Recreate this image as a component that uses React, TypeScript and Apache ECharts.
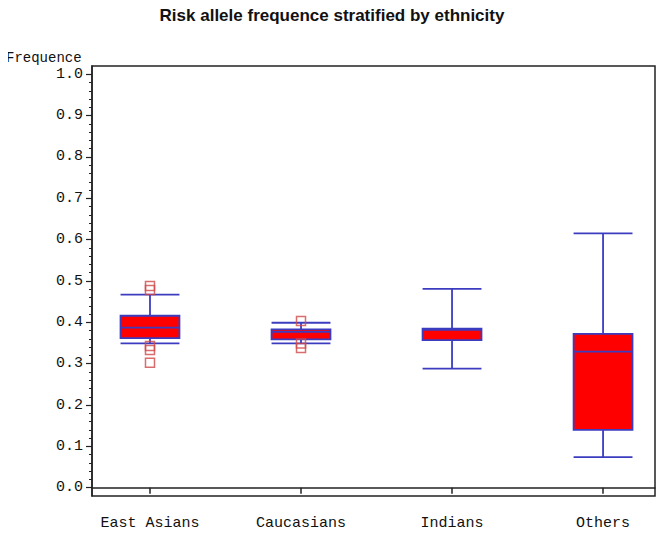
import React, { useEffect, useRef } from "react";
import * as echarts from "echarts";

const categories = ["East Asians", "Caucasians", "Indians", "Others"];
const whiskerLow = [0.349, 0.349, 0.288, 0.074];
const q1 = [0.362, 0.359, 0.357, 0.14];
const median = [0.387, 0.377, 0.382, 0.329];
const q3 = [0.416, 0.383, 0.385, 0.372];
const whiskerHigh = [0.467, 0.399, 0.481, 0.615];
const outlierGroup = [0, 0, 0, 0, 0, 1, 1, 1];
const outlierValue = [0.488, 0.478, 0.343, 0.333, 0.302, 0.403, 0.349, 0.338];
const majorTicks = [0, 0.1, 0.2, 0.3, 0.4, 0.5, 0.6, 0.7, 0.8, 0.9, 1.0];
const minorTicks: number[] = [];
for (let i = 0; i <= 50; i++) {
  if (i % 5 !== 0) minorTicks.push(i / 50);
}

const BLUE = "#3c3cc0";
const MONO = "'Liberation Mono', 'DejaVu Sans Mono', monospace";

export default function App() {
  const ref = useRef<HTMLDivElement>(null);
  useEffect(() => {
    if (!ref.current) return;
    const chart = echarts.init(ref.current, null, { renderer: "svg" });
    const boxData = categories.map((_, i) => [
      i + 1,
      whiskerLow[i],
      q1[i],
      median[i],
      q3[i],
      whiskerHigh[i],
    ]);
    const outData = outlierValue.map((v, i) => [outlierGroup[i] + 1, v]);
    const hw = 0.195;
    chart.setOption({
      animation: false,
      title: {
        text: "Risk allele frequence stratified by ethnicity",
        left: "center",
        top: 2,
        textStyle: {
          fontFamily: "'Liberation Sans', Arial, sans-serif",
          fontSize: 17,
          fontWeight: "bold",
          color: "#111",
        },
      },
      graphic: [
        {
          type: "text",
          x: 6,
          y: 51,
          style: {
            text: "Frequence",
            fontFamily: MONO,
            fontSize: 14,
            fill: "#111",
            align: "left",
            verticalAlign: "top",
          },
        },
      ],
      grid: {
        left: 92,
        right: 9,
        top: 66,
        bottom: 40,
        show: true,
        borderColor: "#222",
        borderWidth: 1.5,
      },
      xAxis: {
        type: "value",
        min: 0.616,
        max: 4.344,
        splitLine: { show: false },
        axisLine: { show: true, lineStyle: { color: "#222", width: 1.5 } },
        axisTick: {
          show: true,
          customValues: [1, 2, 3, 4],
          length: 6,
          lineStyle: { color: "#222", width: 1.5 },
        },
        axisLabel: {
          customValues: [1, 2, 3, 4],
          formatter: (v: number) => categories[Math.round(v) - 1] ?? "",
          margin: 20,
          fontFamily: MONO,
          fontSize: 15,
          color: "#111",
        },
      },
      yAxis: [
        {
          type: "value",
          min: -0.02,
          max: 1.02,
          splitLine: { show: false },
          axisLine: { show: true, lineStyle: { color: "#222", width: 1.5 } },
          axisTick: {
            show: true,
            customValues: majorTicks,
            length: 6,
            lineStyle: { color: "#222", width: 1.2 },
          },
          axisLabel: {
            customValues: majorTicks,
            formatter: (v: number) => v.toFixed(1),
            margin: 9,
            fontFamily: MONO,
            fontSize: 15,
            color: "#111",
          },
        },
        {
          type: "value",
          position: "left",
          min: -0.02,
          max: 1.02,
          splitLine: { show: false },
          axisLine: { show: false },
          axisTick: {
            show: true,
            customValues: minorTicks,
            length: 3,
            lineStyle: { color: "#222", width: 1 },
          },
          axisLabel: { show: false, customValues: minorTicks },
        },
      ],
      series: [
        {
          type: "custom",
          xAxisIndex: 0,
          yAxisIndex: 0,
          data: boxData,
          renderItem: (params: any, api: any) => {
            const x = api.value(0);
            const lo = api.value(1);
            const a = api.value(2);
            const m = api.value(3);
            const b = api.value(4);
            const hi = api.value(5);
            const xl = api.coord([x - hw, 0])[0];
            const xr = api.coord([x + hw, 0])[0];
            const xc = api.coord([x, 0])[0];
            const yLo = api.coord([x, lo])[1];
            const yA = api.coord([x, a])[1];
            const yM = api.coord([x, m])[1];
            const yB = api.coord([x, b])[1];
            const yHi = api.coord([x, hi])[1];
            const ls = { stroke: BLUE, lineWidth: 1.8 };
            return {
              type: "group",
              children: [
                { type: "line", shape: { x1: xc, y1: yHi, x2: xc, y2: yB }, style: ls },
                { type: "line", shape: { x1: xc, y1: yA, x2: xc, y2: yLo }, style: ls },
                { type: "line", shape: { x1: xl, y1: yHi, x2: xr, y2: yHi }, style: ls },
                { type: "line", shape: { x1: xl, y1: yLo, x2: xr, y2: yLo }, style: ls },
                {
                  type: "rect",
                  shape: { x: xl, y: yB, width: xr - xl, height: yA - yB },
                  style: { fill: "#ff0000", stroke: BLUE, lineWidth: 1.8 },
                },
                { type: "line", shape: { x1: xl, y1: yM, x2: xr, y2: yM }, style: ls },
              ],
            };
          },
        },
        {
          type: "scatter",
          data: outData,
          symbol: "rect",
          symbolSize: 9,
          z: 5,
          itemStyle: {
            color: "rgba(255,255,255,0)",
            borderColor: "#d04848",
            borderWidth: 1.5,
          },
        },
      ],
    });
    return () => chart.dispose();
  }, []);
  return <div ref={ref} style={{ width: 664, height: 536, margin: -8 }} />;
}
